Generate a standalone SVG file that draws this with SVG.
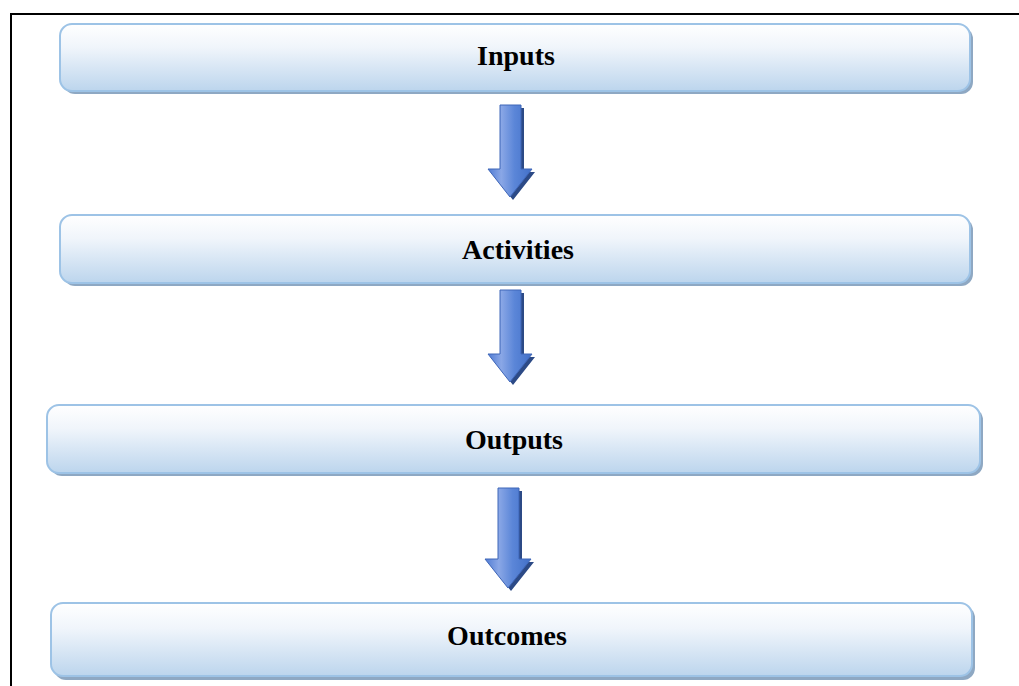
<svg xmlns="http://www.w3.org/2000/svg" width="1019" height="686" viewBox="0 0 1019 686">
<defs>
<linearGradient id="boxg" x1="0" y1="0" x2="0" y2="1">
<stop offset="0" stop-color="#ffffff"/>
<stop offset="0.35" stop-color="#f0f5fb"/>
<stop offset="1" stop-color="#bcd5ed"/>
</linearGradient>
<linearGradient id="arrg" x1="0" y1="0" x2="1" y2="0">
<stop offset="0" stop-color="#4f7bd3"/>
<stop offset="0.3" stop-color="#8aa7e6"/>
<stop offset="0.6" stop-color="#5b86d8"/>
<stop offset="1" stop-color="#4270c8"/>
</linearGradient>
<linearGradient id="arrv" x1="0" y1="0" x2="0" y2="1">
<stop offset="0" stop-color="#ffffff" stop-opacity="0.25"/>
<stop offset="0.5" stop-color="#ffffff" stop-opacity="0"/>
<stop offset="1" stop-color="#ffffff" stop-opacity="0.1"/>
</linearGradient>
</defs>
<style>
.shadow{fill:#8ea8c3}
.box{fill:url(#boxg);stroke:#9dc3e6;stroke-width:2}
.lbl{font-family:"Liberation Serif","Times New Roman",serif;font-weight:bold;font-size:28px;fill:#000;text-anchor:middle}
.ashadow{fill:#2c4a86}
.arrow{fill:url(#arrg);stroke:#3f66b8;stroke-width:1}
</style>
<g id="frame" fill="none" stroke="#000" stroke-width="2">
<line x1="10" y1="14" x2="1019" y2="14"/>
<line x1="11" y1="13" x2="11" y2="686"/>
</g>
<g id="inputs">
<rect class="shadow" x="63" y="27" width="910" height="67" rx="12"/>
<rect class="box" x="60" y="24" width="910" height="67" rx="12"/>
<text class="lbl" x="516" y="65">Inputs</text>
</g>
<g id="activities">
<rect class="shadow" x="63" y="218" width="910" height="68" rx="12"/>
<rect class="box" x="60" y="215" width="910" height="68" rx="12"/>
<text class="lbl" x="518" y="259">Activities</text>
</g>
<g id="outputs">
<rect class="shadow" x="50" y="408" width="933" height="68" rx="12"/>
<rect class="box" x="47" y="405" width="933" height="68" rx="12"/>
<text class="lbl" x="514" y="449">Outputs</text>
</g>
<g id="outcomes">
<rect class="shadow" x="54" y="606" width="921" height="74" rx="12"/>
<rect class="box" x="51" y="603" width="921" height="73" rx="12"/>
<text class="lbl" x="507" y="645">Outcomes</text>
</g>
<g id="connectors">
<g>
<polygon class="ashadow" points="503,108 524,108 524,172 535,172 513,200 491,172 503,172"/>
<polygon class="arrow" points="500,105 521,105 521,169 532,169 510,197 488,169 500,169"/>
</g>
<g>
<polygon class="ashadow" points="503,293 524,293 524,357 535,357 513,385 491,357 503,357"/>
<polygon class="arrow" points="500,290 521,290 521,354 532,354 510,382 488,354 500,354"/>
</g>
<g>
<polygon class="ashadow" points="501,491 522,491 522,562 534,562 511,591 488,562 501,562"/>
<polygon class="arrow" points="498,488 519,488 519,559 531,559 508,588 485,559 498,559"/>
</g>
</g>
</svg>
